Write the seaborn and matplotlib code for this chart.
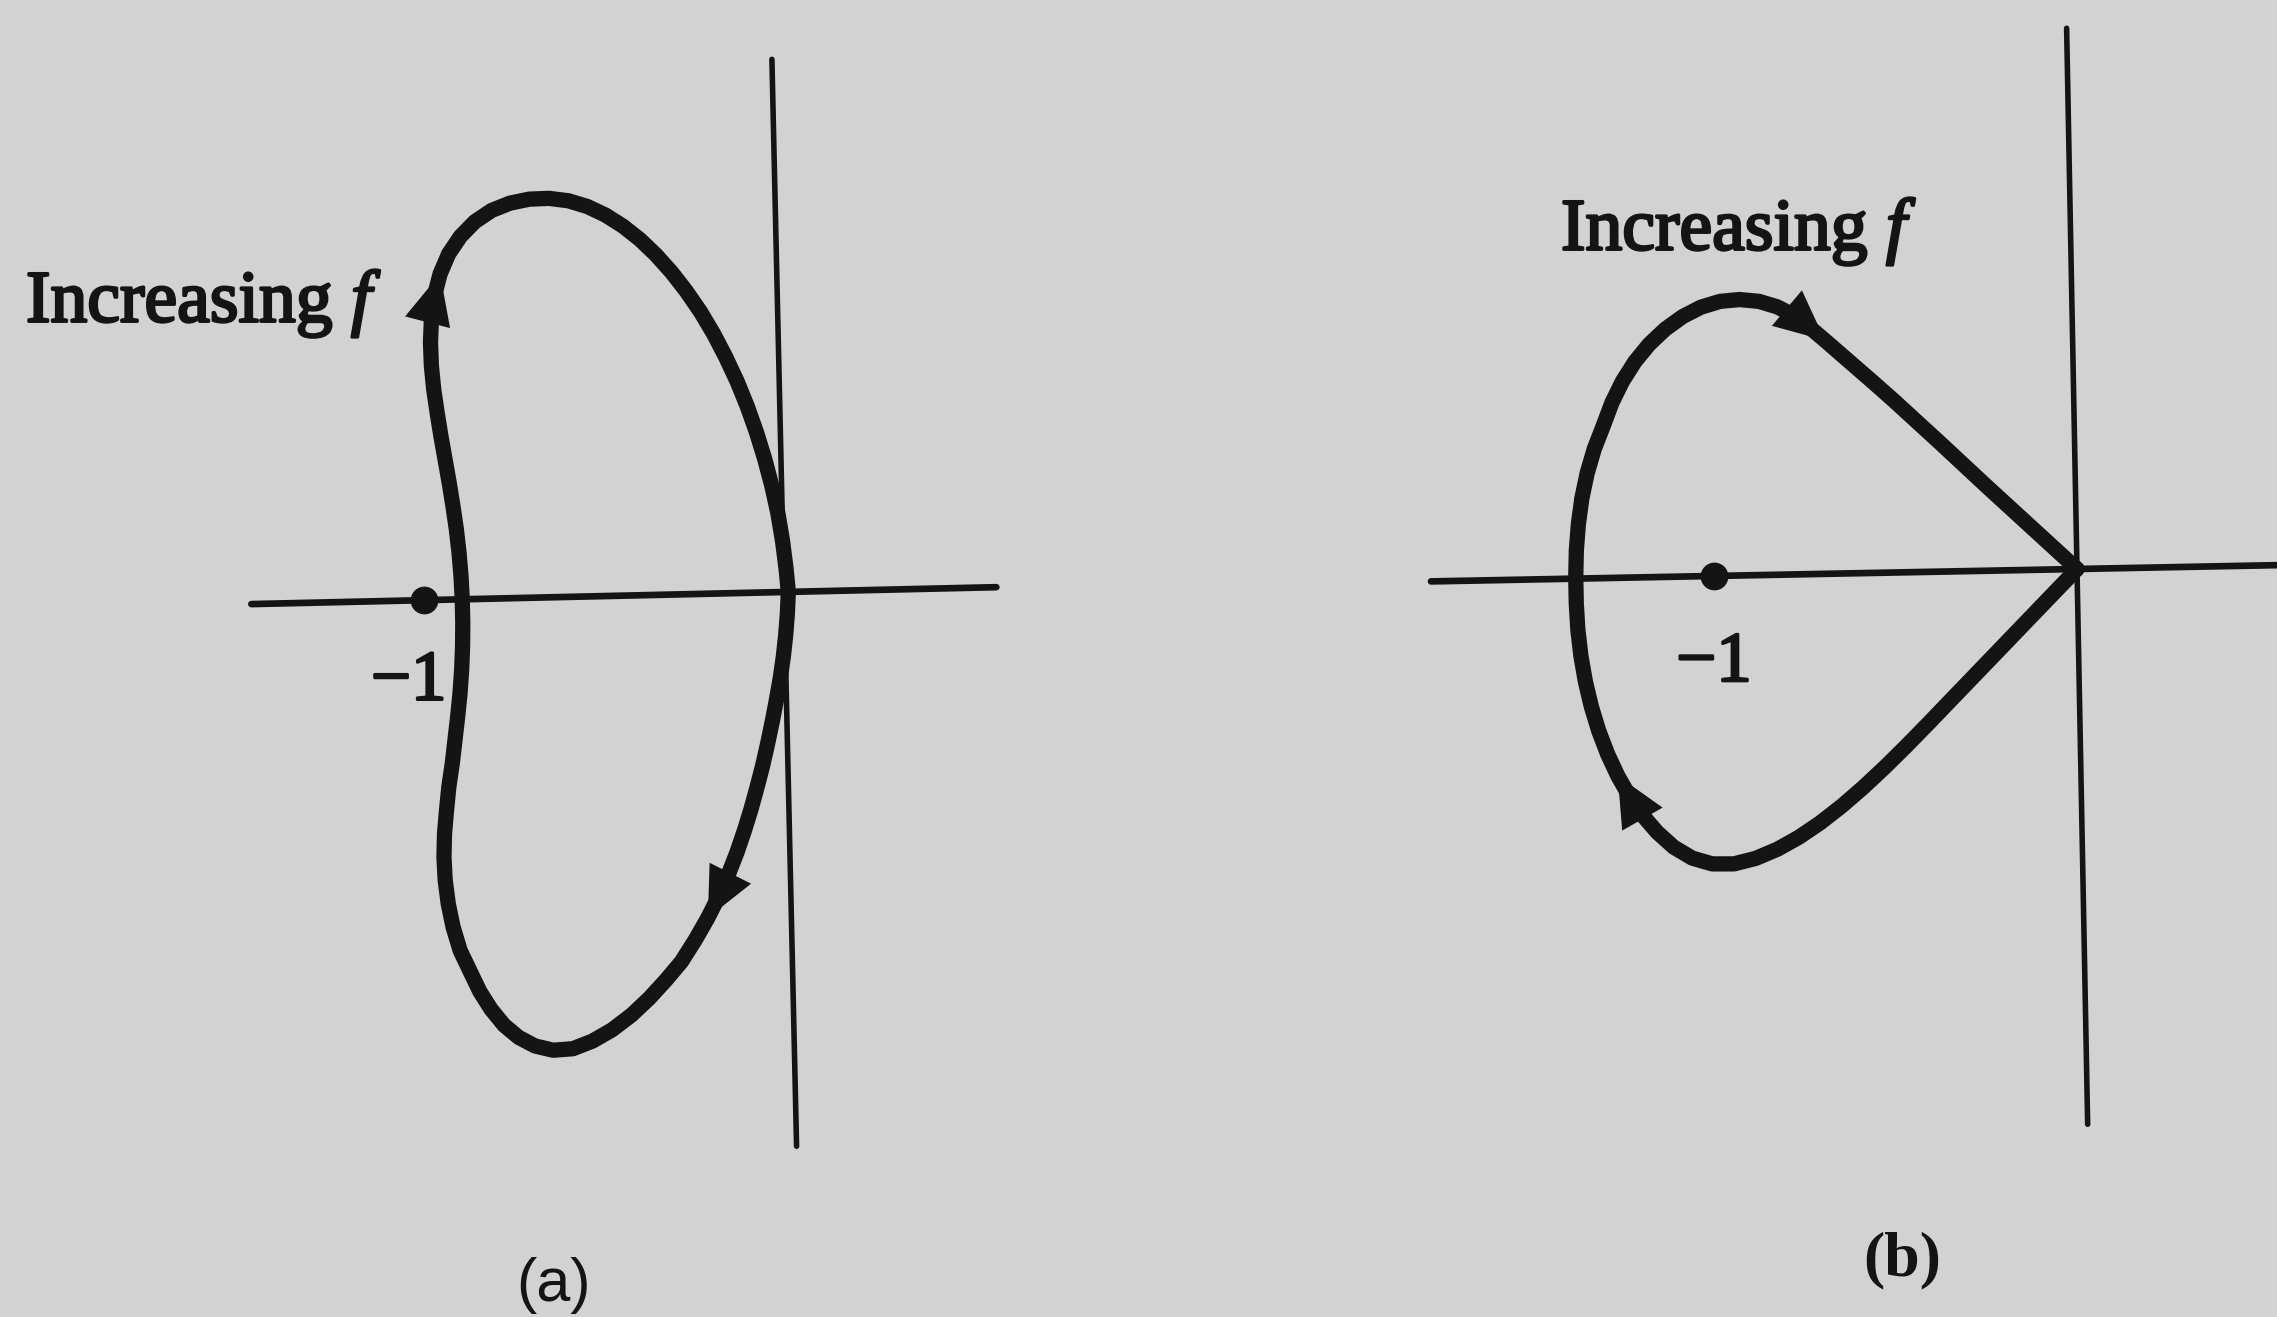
import matplotlib
matplotlib.use("Agg")
import matplotlib.pyplot as plt
import matplotlib.patheffects as pe
from matplotlib.transforms import Affine2D
import seaborn as sns

# ---- Nyquist loop (a): real / imaginary parts, traced from the origin ----
re_a = [0.012, 0.008, 0.002, -0.006, -0.016, -0.028, -0.041, -0.055, -0.070, -0.087,
        -0.105, -0.125, -0.147, -0.172, -0.200, -0.232, -0.268, -0.308, -0.352, -0.400,
        -0.450, -0.505, -0.560, -0.615, -0.670, -0.720, -0.765, -0.805, -0.840, -0.870,
        -0.895, -0.922, -0.940, -0.952, -0.959, -0.961, -0.958, -0.951, -0.943, -0.932,
        -0.923, -0.914, -0.906, -0.900, -0.896, -0.894, -0.894, -0.896, -0.900, -0.906,
        -0.914, -0.923, -0.933, -0.943, -0.952, -0.960, -0.965, -0.966, -0.962, -0.952,
        -0.935, -0.910, -0.876, -0.835, -0.788, -0.737, -0.683, -0.628, -0.574, -0.522,
        -0.472, -0.424, -0.378, -0.334, -0.292, -0.252, -0.214, -0.179, -0.147, -0.117,
        -0.090, -0.066, -0.045, -0.027, -0.012, -0.001, 0.007, 0.012]
im_a = [0.000, -0.060, -0.120, -0.180, -0.240, -0.300, -0.360, -0.420, -0.480, -0.540,
        -0.600, -0.660, -0.720, -0.780, -0.840, -0.900, -0.960, -1.020, -1.070, -1.120,
        -1.165, -1.205, -1.235, -1.255, -1.258, -1.245, -1.220, -1.185, -1.140, -1.090,
        -1.035, -0.975, -0.910, -0.845, -0.780, -0.715, -0.650, -0.585, -0.520, -0.455,
        -0.390, -0.325, -0.260, -0.195, -0.130, -0.065, 0.000, 0.065, 0.130, 0.195,
        0.260, 0.325, 0.390, 0.455, 0.520, 0.585, 0.650, 0.715, 0.780, 0.845,
        0.905, 0.960, 1.008, 1.048, 1.078, 1.097, 1.107, 1.108, 1.100, 1.083,
        1.058, 1.026, 0.988, 0.944, 0.895, 0.841, 0.783, 0.721, 0.656, 0.588,
        0.517, 0.444, 0.370, 0.295, 0.219, 0.143, 0.067, 0.000]

# ---- Nyquist loop (b): starts and ends at the origin ----
re_b = [0.000, -0.060, -0.120, -0.180, -0.240, -0.300, -0.360, -0.420, -0.480, -0.540,
        -0.600, -0.660, -0.720, -0.780, -0.840, -0.900, -0.960, -1.020, -1.075, -1.125,
        -1.170, -1.210, -1.245, -1.276, -1.303, -1.326, -1.345, -1.360, -1.371, -1.378,
        -1.381, -1.381, -1.378, -1.371, -1.360, -1.344, -1.323, -1.297, -1.272, -1.242,
        -1.207, -1.167, -1.122, -1.073, -1.022, -0.969, -0.915, -0.862, -0.812, -0.766,
        -0.724, -0.682, -0.620, -0.558, -0.496, -0.434, -0.372, -0.310, -0.248, -0.186,
        -0.124, -0.062, 0.000]
im_b = [0.000, -0.060, -0.120, -0.180, -0.240, -0.300, -0.360, -0.420, -0.479, -0.536,
        -0.590, -0.640, -0.685, -0.724, -0.756, -0.780, -0.794, -0.793, -0.776, -0.745,
        -0.703, -0.655, -0.602, -0.545, -0.484, -0.420, -0.353, -0.284, -0.213, -0.141,
        -0.068, 0.005, 0.078, 0.150, 0.221, 0.290, 0.357, 0.420, 0.483, 0.541,
        0.594, 0.641, 0.682, 0.716, 0.741, 0.756, 0.760, 0.754, 0.738, 0.713,
        0.680, 0.643, 0.587, 0.531, 0.474, 0.415, 0.356, 0.296, 0.236, 0.177,
        0.118, 0.059, 0.000]

# direction arrows: (tail index, tip index) along each loop
arrows_a = [(59, 60), (14, 15)]
arrows_b = [(50, 51), (22, 23)]

# extent of the drawn real / imaginary axes
real_axis_a = [-1.48, 0.59]
imag_axis_a = [1.48, -1.54]
real_axis_b = [-1.78, 0.62]
imag_axis_b = [1.49, -1.53]

critical_re, critical_im = -1.0, 0.0
critical_label = "\u22121"
freq_label = "Increasing $f$"
panel_labels = ["(a)", "(b)"]

INK = "#141414"
PAPER = "#d2d2d2"

sns.set_style("white")
plt.rcParams["font.family"] = ["Liberation Serif", "DejaVu Serif"]
plt.rcParams["mathtext.fontset"] = "custom"
plt.rcParams["mathtext.it"] = "Liberation Serif:italic"
plt.rcParams["mathtext.rm"] = "Liberation Serif"

W, H = 2277, 1317
fig = plt.figure(figsize=(W / 100, H / 100), dpi=100)
fig.patch.set_facecolor(PAPER)

ink_fx = [pe.withStroke(linewidth=2.0, foreground=INK)]


def panel(origin_px, scale):
    """Full-figure transparent axes whose complex origin sits at origin_px."""
    ox, oy = origin_px
    ax = fig.add_axes([0, 0, 1, 1])
    ax.set_xlim(-ox / scale, (W - ox) / scale)
    ax.set_ylim(-(H - oy) / scale, oy / scale)
    ax.set_facecolor("none")
    ax.axis("off")
    return ax


def draw(ax, re, im, arrows, real_axis, imag_axis, tilt):
    rot = Affine2D().rotate_deg(tilt) + ax.transData
    # real and imaginary axes
    sns.lineplot(x=real_axis, y=[0, 0], ax=ax, color=INK, lw=4.8,
                 estimator=None, sort=False)
    ax.lines[-1].set_transform(rot)
    sns.lineplot(x=[0, 0], y=imag_axis, ax=ax, color=INK, lw=4.0,
                 estimator=None, sort=False)
    ax.lines[-1].set_transform(rot)
    # the Nyquist loop
    sns.lineplot(x=re, y=im, ax=ax, color=INK, lw=11.0,
                 estimator=None, sort=False)
    ln = ax.lines[-1]
    ln.set_transform(rot)
    ln.set_solid_joinstyle("round")
    ln.set_solid_capstyle("round")
    # critical point -1
    sns.scatterplot(x=[critical_re], y=[critical_im], ax=ax, s=400,
                    color=INK, linewidth=0)
    ax.collections[-1].set_offset_transform(rot)
    # direction arrows
    for t0, t1 in arrows:
        ax.annotate("", xy=(re[t1], im[t1]), xytext=(re[t0], im[t0]),
                    xycoords=rot, textcoords=rot,
                    arrowprops=dict(arrowstyle="-|>,head_length=0.58,head_width=0.27",
                                    mutation_scale=62, fc=INK, ec=INK, lw=0,
                                    shrinkA=0, shrinkB=0))
    return rot


ax_a = panel((784, 592), 360)
rot_a = draw(ax_a, re_a, im_a, arrows_a, real_axis_a, imag_axis_a, 1.3)
ax_b = panel((2077, 569), 363)
rot_b = draw(ax_b, re_b, im_b, arrows_b, real_axis_b, imag_axis_b, 1.1)

# "-1" labels under the critical point
ax_a.annotate(critical_label, xy=(critical_re, critical_im), xycoords=rot_a,
              xytext=(-11, -59), textcoords="offset points", ha="center",
              va="center", fontsize=51, color=INK, path_effects=ink_fx)
ax_b.annotate(critical_label, xy=(critical_re, critical_im), xycoords=rot_b,
              xytext=(0, -63), textcoords="offset points", ha="center",
              va="center", fontsize=51, color=INK, path_effects=ink_fx)

# frequency-direction labels
fig.text(26 / W, 1 - 322 / H, freq_label, ha="left", va="baseline",
         fontsize=53, color=INK, path_effects=ink_fx)
fig.text(1561 / W, 1 - 250 / H, freq_label, ha="left", va="baseline",
         fontsize=53, color=INK, path_effects=ink_fx)

# panel captions
fig.text(553 / W, 1 - 1286 / H, panel_labels[0], ha="center", va="center",
         fontsize=44, color=INK, family="Liberation Sans")
fig.text(1902 / W, 1 - 1260 / H, panel_labels[1], ha="center", va="center",
         fontsize=46, color=INK, fontweight="bold", family="Liberation Serif")

fig.savefig("out.png", dpi=100, facecolor=PAPER)
